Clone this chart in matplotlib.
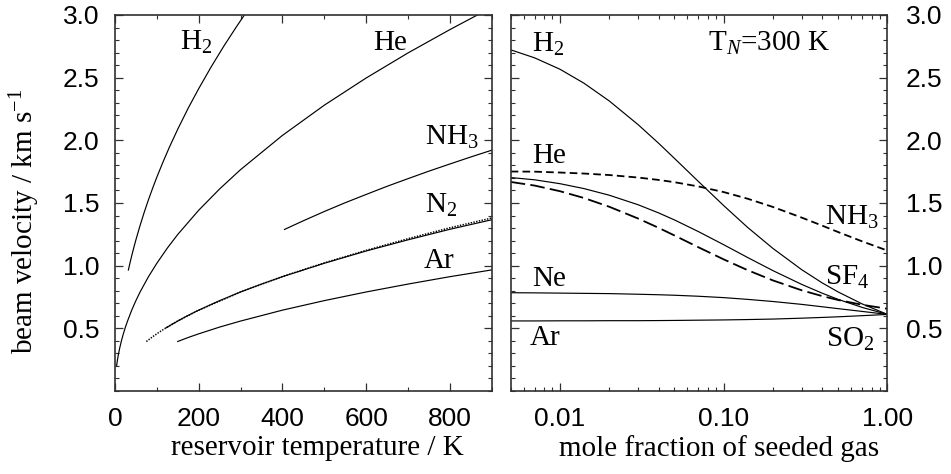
import matplotlib
matplotlib.use("Agg")
import matplotlib.pyplot as plt
from matplotlib.ticker import MultipleLocator, FixedLocator, NullFormatter, LogLocator

plt.rcParams["font.family"] = ["Liberation Sans", "DejaVu Sans"]
plt.rcParams["mathtext.fontset"] = "custom"
plt.rcParams["mathtext.rm"] = "Liberation Serif"
plt.rcParams["mathtext.it"] = "Liberation Serif:italic"
plt.rcParams["mathtext.bf"] = "Liberation Serif:bold"
plt.rcParams["lines.scale_dashes"] = False

# ---------------- left panel: velocity vs reservoir temperature ----------------
h2_T = [32, 36, 40, 45, 50, 60, 70, 80, 90, 100, 115, 130, 150, 175, 200, 230, 260, 290, 309]
h2_v = [0.965, 1.024, 1.079, 1.144, 1.206, 1.321, 1.427, 1.526, 1.618, 1.706, 1.829,
        1.945, 2.089, 2.257, 2.412, 2.587, 2.751, 2.905, 2.999]

he_T = [4, 6, 8, 11, 15, 20, 25, 30, 40, 50, 60, 80, 100, 125, 150, 200, 250, 300,
        400, 500, 600, 700, 800, 866]
he_v = [0.204, 0.250, 0.288, 0.338, 0.395, 0.456, 0.510, 0.558, 0.645, 0.721, 0.790,
        0.912, 1.019, 1.140, 1.249, 1.442, 1.612, 1.766, 2.039, 2.280, 2.497, 2.697,
        2.883, 3.000]

nh3_T = [405, 450, 500, 550, 600, 650, 700, 750, 800, 850, 900]
nh3_v = [1.289, 1.358, 1.432, 1.502, 1.568, 1.633, 1.694, 1.754, 1.811, 1.867, 1.921]

n2_T = [122, 140, 160, 180, 200, 250, 300, 350, 400, 500, 600, 700, 800, 900]
n2_v = [0.504, 0.539, 0.577, 0.612, 0.645, 0.721, 0.790, 0.853, 0.912, 1.019, 1.117,
        1.206, 1.290, 1.366]

n2_real_T = [75, 90, 105, 122, 150, 200, 300, 400, 500, 600, 700, 800, 900]
n2_real_v = [0.395, 0.433, 0.468, 0.504, 0.559, 0.645, 0.790, 0.913, 1.022, 1.122,
             1.215, 1.302, 1.380]

ar_T = [150, 175, 200, 250, 300, 400, 500, 600, 700, 800, 900]
ar_v = [0.395, 0.427, 0.456, 0.510, 0.558, 0.645, 0.721, 0.790, 0.853, 0.912, 0.966]

# ---------------- right panel: velocity vs mole fraction of seed gas ----------------
mole_frac = [0.005, 0.007, 0.01, 0.014, 0.02, 0.03, 0.04, 0.05, 0.07, 0.1, 0.14,
             0.2, 0.3, 0.4, 0.5, 0.7, 1.0]
so2_in_h2 = [2.722, 2.658, 2.567, 2.456, 2.314, 2.125, 1.977, 1.856, 1.672, 1.479,
             1.305, 1.137, 0.967, 0.862, 0.790, 0.695, 0.611]
so2_in_he = [1.703, 1.685, 1.654, 1.615, 1.562, 1.486, 1.421, 1.365, 1.272, 1.167,
             1.065, 0.960, 0.850, 0.780, 0.731, 0.667, 0.611]
nh3_in_he = [1.751, 1.750, 1.743, 1.735, 1.723, 1.703, 1.684, 1.666, 1.632, 1.587,
             1.534, 1.468, 1.383, 1.319, 1.268, 1.194, 1.120]
sf4_in_he = [1.668, 1.639, 1.594, 1.540, 1.470, 1.376, 1.302, 1.241, 1.147, 1.050,
             0.964, 0.882, 0.803, 0.757, 0.726, 0.688, 0.656]
so2_in_ne = [0.784, 0.783, 0.781, 0.779, 0.777, 0.772, 0.768, 0.764, 0.756, 0.745,
             0.731, 0.714, 0.691, 0.672, 0.657, 0.635, 0.611]
so2_in_ar = [0.559, 0.559, 0.560, 0.560, 0.561, 0.561, 0.562, 0.563, 0.565, 0.567,
             0.570, 0.574, 0.581, 0.587, 0.592, 0.601, 0.611]

y_ticks = [0.5, 1.0, 1.5, 2.0, 2.5, 3.0]
y_ticklabels = ["0.5", "1.0", "1.5", "2.0", "2.5", "3.0"]
T_ticks = [0, 200, 400, 600, 800]
T_ticklabels = ["0", "200", "400", "600", "800"]
x_ticks = [0.01, 0.1, 1.0]
x_ticklabels = ["0.01", "0.10", "1.00"]

SERIF = "Liberation Serif"
TICK_FS = 19
LABEL_FS = 21
ANNOT_FS = 21
SPINE_C = "#303030"
LW = 0.85

fig = plt.figure(figsize=(9.51, 4.74), dpi=100)
ax1 = fig.add_axes([0.1209, 0.1751, 0.3961, 0.7933])
ax2 = fig.add_axes([0.5370, 0.1751, 0.3962, 0.7933])

for ax in (ax1, ax2):
    for s in ax.spines.values():
        s.set_linewidth(1.2)
        s.set_color(SPINE_C)
    ax.tick_params(which="both", direction="in", top=True, right=True,
                   color=SPINE_C, labelsize=TICK_FS)
    ax.tick_params(which="major", length=6, width=0.9)
    ax.tick_params(which="minor", length=3.2, width=0.8)
    ax.set_ylim(0, 3.0)
    ax.set_yticks(y_ticks)
    ax.set_yticklabels(y_ticklabels)
    ax.yaxis.set_minor_locator(MultipleLocator(0.1))

# left panel
ax1.plot(h2_T, h2_v, color="black", lw=LW)
ax1.plot(he_T, he_v, color="black", lw=LW)
ax1.plot(nh3_T, nh3_v, color="black", lw=LW)
ax1.plot(n2_real_T, n2_real_v, color="black", lw=1.1, linestyle=(0, (1.0, 1.0)))
ax1.plot(n2_T, n2_v, color="black", lw=LW)
ax1.plot(ar_T, ar_v, color="black", lw=LW)
ax1.set_xlim(0, 900)
ax1.set_xticks(T_ticks)
ax1.set_xticklabels(T_ticklabels)
ax1.xaxis.set_minor_locator(FixedLocator([100, 300, 500, 700, 900]))
ax1.tick_params(axis="y", which="major", pad=11)
ax1.tick_params(axis="x", which="major", pad=11.5)
ax1.set_xlabel("reservoir temperature / K", fontsize=LABEL_FS, family=SERIF)
ax1.set_ylabel(r"beam velocity / km s$^{-1}$", fontsize=LABEL_FS, family=SERIF)
ax1.xaxis.set_label_coords(0.537, -0.118)
ax1.yaxis.set_label_coords(-0.193, 0.45)

ann = dict(fontsize=ANNOT_FS, family=SERIF, va="baseline", ha="center")
ax1.text(193, 2.72, r"H$_2$", **ann)
ax1.text(657, 2.72, "He", **ann)
ax1.text(805, 1.963, r"NH$_3$", **ann)
ax1.text(780, 1.423, r"N$_2$", **ann)
ax1.text(775, 0.984, "Ar", **ann)

# right panel
ax2.set_xscale("log")
ax2.plot(mole_frac, so2_in_h2, color="black", lw=LW)
ax2.plot(mole_frac, so2_in_he, color="black", lw=LW)
ax2.plot(mole_frac, so2_in_ne, color="black", lw=LW)
ax2.plot(mole_frac, so2_in_ar, color="black", lw=LW)
ax2.plot(mole_frac, nh3_in_he, color="black", lw=1.3, linestyle=(0, (5.5, 3.0)))
ax2.plot(mole_frac, sf4_in_he, color="black", lw=1.3, linestyle=(0, (10.5, 3.8)))
ax2.set_xlim(0.005, 1.0)
ax2.xaxis.set_major_locator(FixedLocator(x_ticks))
ax2.set_xticklabels(x_ticklabels)
ax2.xaxis.set_minor_locator(LogLocator(base=10, subs=[2, 3, 4, 5, 6, 7, 8, 9]))
ax2.xaxis.set_minor_formatter(NullFormatter())
ax2.tick_params(axis="y", which="both", left=True, right=True,
                labelleft=False, labelright=True)
ax2.tick_params(axis="y", which="major", pad=13)
ax2.tick_params(axis="x", which="major", pad=11.5)
ax2.set_xlabel("mole fraction of seeded gas", fontsize=LABEL_FS, family=SERIF)
ax2.xaxis.set_label_coords(0.553, -0.118)

ax2.text(0.00844, 2.707, r"H$_2$", **ann)
ax2.text(0.1885, 2.713, r"T$_{N}$=300 K", **ann)
ax2.text(0.0086, 1.817, "He", **ann)
ax2.text(0.0086, 0.840, "Ne", **ann)
ax2.text(0.00815, 0.367, "Ar", **ann)
ax2.text(0.6095, 1.3245, r"NH$_3$", **ann)
ax2.text(0.568, 0.846, r"SF$_4$", **ann)
ax2.text(0.590, 0.355, r"SO$_2$", **ann)

fig.savefig("out.png", dpi=100)
